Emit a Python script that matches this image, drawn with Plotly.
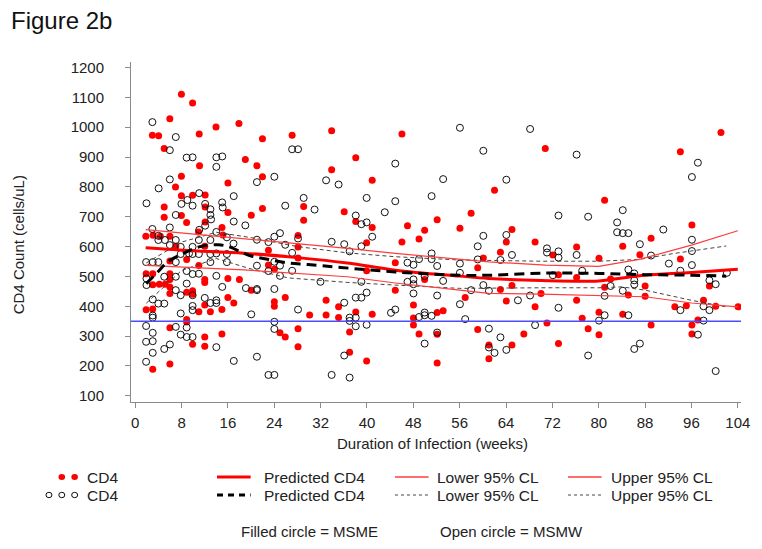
import plotly.graph_objects as go

# ---------------- data ----------------
msme_weeks = [7.97, 9.9, 5.97, 2.96, 4.04, 11.04, 13.94, 17.9, 5.0, 11.1, 19.0, 7.97, 6.95, 16.0, 7.97, 9.9, 12.07,
              5.0, 5.0, 7.97, 16.0, 8.87, 12.07, 12.07, 14.97,
              1.83, 3.08, 4.33, 5.98, 10.93, 15.14, 7.0, 12.0, 5.98, 8.88, 10.98, 1.88, 3.02, 5.98, 5.98, 3.02, 4.16,
              5.18, 5.98, 5.98, 12.0, 12.0, 15.99, 17.98, 8.88, 9.9, 9.9, 15.99, 17.01, 1.88, 3.02, 8.88, 8.88, 5.98,
              10.98, 12.0, 12.97, 14.96, 14.96, 12.0, 9.9, 12.0, 3.02, 5.98,
              21.96, 27.08, 33.9, 21.0, 21.96, 33.9, 38.06, 40.9, 20.03, 21.96, 29.07, 29.07, 36.07, 38.06, 40.9, 28.1,
              28.1, 22.99, 22.99, 24.01, 28.1, 39.94, 39.94, 44.88, 44.88, 20.03, 24.01, 24.01, 25.89, 32.94, 30.1,
              32.94, 35.1, 35.1, 38.06, 40.9, 24.98, 25.89, 28.1, 28.1, 37.0, 37.0, 39.94,
              46.03, 46.99, 46.03, 48.98, 49.95, 52.11, 56.04, 57.97, 62.01, 65.02, 64.05, 63.03, 69.01, 70.77, 49.95,
              59.11, 60.08, 48.02, 48.02, 48.02, 52.11, 53.14, 52.11, 48.98, 52.11, 56.95, 63.03, 64.05, 65.02, 59.11,
              61.04, 61.04, 65.02, 67.07, 69.01, 70.03,
              101.09, 94.09, 81.01, 96.08, 89.03, 84.14, 76.18, 72.08, 87.1, 80.04, 94.09, 73.05, 76.18, 82.04, 81.01,
              88.0, 99.1, 76.18, 85.11, 88.0, 93.13, 95.12, 100.18, 104.05, 71.06, 77.14, 78.17, 80.04, 80.04, 84.14,
              89.03, 96.08, 96.08, 97.11, 98.08, 73.05]
msme_cd4 = [1110, 1081, 1028, 973, 971, 977, 1001, 1012, 929, 871, 892, 836, 800, 813, 770, 772, 773,
            733, 698, 704, 714, 681, 682, 733, 664,
            635, 638, 635, 635, 649, 639, 601, 601, 552, 557, 537, 509, 509, 509, 490, 472, 474,
            474, 465, 443, 490, 480, 493, 490, 447, 452, 440, 429, 411, 388, 391, 356, 347, 328,
            382, 404, 382, 389, 307, 297, 273, 266, 189, 207,
            961, 973, 988, 871, 834, 857, 898, 822, 705, 728, 734, 688, 717, 684, 664, 637,
            599, 588, 538, 524, 562, 613, 519, 546, 454, 454, 415, 400, 429, 420, 371,
            371, 398, 362, 381, 373, 311, 297, 325, 264, 314, 246, 217,
            977, 670, 615, 625, 655, 690, 661, 712, 789, 657, 615, 581, 615, 929, 490,
            529, 562, 404, 361, 337, 379, 385, 306, 307, 210, 429, 456, 418, 470, 322,
            270, 224, 270, 307, 398, 443,
            982, 918, 755, 672, 628, 601, 599, 572, 573, 561, 558, 506, 496, 491, 464,
            468, 468, 420, 438, 434, 398, 402, 400, 398, 344, 360, 325, 380, 305, 373,
            337, 337, 307, 354, 420, 275]

msmw_weeks = [2.96, 7.0, 5.97, 8.87, 9.9, 14.0, 15.02, 14.0, 5.97, 4.04, 1.94, 11.04, 7.97, 9.0, 9.9, 12.07, 12.97,
              12.97, 13.09, 15.0, 15.1, 17.0, 17.0, 7.0, 5.97, 19.0, 12.07, 11.04, 2.96,
              3.99, 5.12, 3.99, 7.0, 10.98, 12.97, 14.0, 15.82, 16.96, 5.98, 7.85, 9.9, 9.28, 9.9, 10.98, 12.97, 14.0,
              15.82, 1.88, 3.02, 3.99, 7.0, 7.85, 12.97, 15.82, 1.94, 1.94, 5.01, 7.0, 8.88, 8.88, 9.9, 10.98, 14.0,
              15.02, 19.1, 3.02, 3.99, 5.01, 7.0, 7.85, 9.9, 9.9, 9.9, 7.85, 14.0, 12.97, 14.0, 12.0, 3.02, 3.02, 1.88,
              7.0, 8.88, 3.02, 1.88, 3.02, 7.85, 8.88, 9.9, 5.98, 5.01, 3.02, 14.0, 1.88, 17.01,
              27.08, 28.1, 24.01, 21.0, 32.94, 35.1, 44.88, 29.07, 25.89, 30.95, 39.94, 44.88, 43.07, 38.06, 39.03,
              39.94, 40.9, 24.01, 24.98, 21.0, 22.99, 25.89, 27.08, 28.1, 33.9, 36.07, 37.0, 39.03, 21.0, 22.99, 24.98,
              27.08, 24.01, 24.98, 31.97, 39.03, 21.0, 24.01, 21.0, 20.03, 28.1, 36.07, 38.06, 39.03, 39.94, 37.0,
              37.0, 38.06, 38.06, 39.94, 24.01, 24.01, 44.14, 44.88, 21.0, 22.99, 24.01, 33.9, 36.07, 37.0,
              56.04, 68.15, 60.08, 53.14, 64.05, 51.15, 60.08, 64.05, 59.11, 65.02, 51.15, 51.15, 46.99, 48.02, 48.98,
              52.11, 49.95, 56.04, 56.04, 59.11, 63.03, 46.99, 48.02, 48.02, 53.14, 57.97, 60.08, 61.04, 66.05, 68.15,
              48.02, 52.11, 56.04, 48.98, 49.95, 49.95, 51.15, 52.11, 49.95, 56.95, 61.04, 61.04, 62.01, 63.03, 64.05,
              69.01,
              76.18, 97.11, 96.08, 73.05, 78.17, 84.14, 83.17, 83.17, 84.14, 85.11, 91.14, 87.1, 96.08, 71.06, 71.06,
              73.05, 73.05, 76.18, 89.03, 96.08, 92.1, 96.08, 77.14, 72.08, 85.11, 86.13, 94.09, 86.13, 86.13, 99.1,
              100.18, 102.11, 82.04, 84.14, 81.01, 73.05, 81.01, 80.04, 85.11, 94.09, 98.08, 99.1, 98.08, 97.11, 78.17,
              86.13, 87.1, 100.18]
msmw_cd4 = [1017, 967, 923, 898, 899, 899, 902, 867, 825, 795, 745, 779, 743, 756, 737, 743, 725,
            706, 691, 748, 731, 769, 684, 706, 664, 671, 670, 656, 659,
            636, 622, 622, 622, 622, 622, 649, 631, 610, 605, 599, 599, 577, 575, 575, 575, 577,
            575, 548, 548, 548, 548, 575, 548, 548, 493, 471, 499, 499, 518, 476, 508, 509, 502,
            465, 461, 423, 409, 409, 454, 437, 437, 401, 387, 376, 420, 411, 411, 428, 369, 362, 334,
            331, 329, 311, 281, 283, 305, 297, 297, 272, 257, 244, 263, 214, 217,
            926, 926, 834, 816, 822, 808, 878, 763, 737, 724, 763, 752, 715, 704, 675,
            681, 633, 633, 645, 623, 615, 606, 579, 627, 616, 608, 584, 601, 536, 518, 502,
            519, 549, 536, 482, 482, 458, 458, 454, 373, 389, 412, 429, 429, 446, 362,
            351, 362, 333, 338, 348, 324, 378, 389, 231, 170, 170, 170, 235, 161,
            998, 994, 921, 826, 824, 769, 636, 639, 601, 572, 577, 558, 546, 539, 558,
            535, 501, 543, 512, 557, 555, 482, 490, 474, 485, 454, 471, 452, 420, 436,
            443, 436, 407, 364, 370, 379, 368, 312, 275, 357, 325, 262, 244, 296, 254,
            337,
            908, 881, 833, 704, 700, 722, 681, 648, 645, 645, 657, 608, 623, 594, 580,
            584, 563, 572, 570, 585, 543, 538, 519, 504, 523, 510, 519, 487, 473, 487,
            474, 512, 468, 452, 435, 395, 370, 352, 370, 387, 400, 387, 352, 305, 235,
            257, 275, 183]

# fitted curves
fit_msme_weeks = [1.8, 10, 18.7, 28, 36.6, 44.9, 56, 61, 70, 80, 84, 88, 96, 104]
fit_msme_pred = [596, 586, 578, 563, 545, 521, 501, 493, 486, 485, 495, 504, 513, 524]
ucl_msme_weeks = [1.8, 18.7, 36.6, 44.9, 56, 61, 70.8, 80, 87, 96, 104]
ucl_msme = [657, 627, 594, 577, 557, 549, 538, 534, 557, 605, 653]
lcl_msme_weeks = [1.8, 18.7, 36.6, 44.9, 56, 61, 70, 80, 88, 96, 104]
lcl_msme = [537, 522, 499, 478, 454, 443, 441, 437, 432, 411, 398]

fit_msmw_weeks = [1.9, 3.9, 5.6, 8.3, 11, 14.3, 16.2, 19.6, 23, 26.4, 29.8, 35.5, 44.9, 56, 61, 70.5, 80, 88, 96, 102]
fit_msmw_pred = [476, 515, 549, 577, 599, 606, 599, 571, 557, 545, 540, 530, 515, 504, 504, 511, 510, 506, 504, 501]
ucl_msmw_weeks = [1.9, 8, 14, 20, 28, 36.6, 44.9, 56, 70, 80, 87, 93, 102]
ucl_msmw = [545, 615, 648, 630, 600, 579, 566, 555, 551, 551, 557, 577, 602]
lcl_msmw_weeks = [1.9, 8, 14, 20, 26.4, 36.6, 44.9, 56, 70, 80, 84, 88, 96, 102]
lcl_msmw = [410, 520, 560, 525, 495, 480, 471, 460, 462, 462, 465, 454, 420, 398]

threshold_cd4 = 350
x_ticks = list(range(0, 105, 8))
y_ticks = list(range(100, 1201, 100))

# ---------------- layout geometry ----------------
W, H = 762, 549
ML, MR, MT, MB = 131, 14, 62, 147
PW, PH = W - ML - MR, H - MT - MB


def px(x):
    return (x - ML) / PW


def py(y):
    return (H - MB - y) / PH


FONT = "Liberation Sans, Arial, sans-serif"
RED = "#ff0000"
RED_THIN = "#ff3c3c"

fig = go.Figure()

fig.add_trace(go.Scatter(x=msme_weeks, y=msme_cd4, mode="markers",
                         marker=dict(symbol="circle", size=7, color=RED, line=dict(width=0)),
                         showlegend=False))
fig.add_trace(go.Scatter(x=msmw_weeks, y=msmw_cd4, mode="markers",
                         marker=dict(symbol="circle-open", size=7, color="#111111", line=dict(width=1)),
                         showlegend=False))

fig.add_trace(go.Scatter(x=ucl_msmw_weeks, y=ucl_msmw, mode="lines",
                         line=dict(color="#444444", width=1, dash="4px,3px"), showlegend=False))
fig.add_trace(go.Scatter(x=lcl_msmw_weeks, y=lcl_msmw, mode="lines",
                         line=dict(color="#444444", width=1, dash="4px,3px"), showlegend=False))
fig.add_trace(go.Scatter(x=ucl_msme_weeks, y=ucl_msme, mode="lines",
                         line=dict(color=RED_THIN, width=1.2), showlegend=False))
fig.add_trace(go.Scatter(x=lcl_msme_weeks, y=lcl_msme, mode="lines",
                         line=dict(color=RED_THIN, width=1.2), showlegend=False))
fig.add_trace(go.Scatter(x=fit_msme_weeks, y=fit_msme_pred, mode="lines",
                         line=dict(color=RED, width=3, shape="spline"), showlegend=False))
fig.add_trace(go.Scatter(x=fit_msmw_weeks, y=fit_msmw_pred, mode="lines",
                         line=dict(color="black", width=3, dash="10px,6px", shape="spline"), showlegend=False))

fig.add_hline(y=threshold_cd4, line=dict(color="#4d4dff", width=1.5))

axis_common = dict(showline=True, linecolor="#8a8a8a", linewidth=1, ticks="outside", ticklen=5,
                   tickcolor="#8a8a8a", showgrid=False, zeroline=False,
                   tickfont=dict(family=FONT, size=15, color="#222222"))

fig.update_xaxes(range=[-0.73, 104.55], tickvals=x_ticks, ticklabelstandoff=2, **axis_common)
fig.update_yaxes(range=[79.3, 1218.4], tickvals=y_ticks, ticklabelstandoff=18, **axis_common)

ann = []
ann.append(dict(text="Figure 2b", x=px(8), y=py(20), xanchor="left", yanchor="middle",
                font=dict(family=FONT, size=24, color="#111111")))
ann.append(dict(text="CD4 Count (cells/uL)", x=px(17), y=py(245), textangle=-90,
                xanchor="center", yanchor="middle", font=dict(family=FONT, size=15, color="#222222")))
ann.append(dict(text="Duration of Infection (weeks)", x=px(436), y=py(443),
                xanchor="center", yanchor="middle", font=dict(family=FONT, size=15, color="#222222")))

shapes = []
rows = [477, 495]
for i, xx in enumerate([48, 61, 74]):
    shapes.append(dict(type="circle", xref="paper", yref="paper", xsizemode="pixel", ysizemode="pixel",
                       xanchor=px(xx), yanchor=py(rows[0]), x0=-3.3, x1=3.3, y0=-3, y1=3,
                       fillcolor=RED, line=dict(width=0)))
    shapes.append(dict(type="circle", xref="paper", yref="paper", xsizemode="pixel", ysizemode="pixel",
                       xanchor=px(xx), yanchor=py(rows[1]), x0=-3, x1=3, y0=-2.7, y1=2.7,
                       fillcolor="rgba(0,0,0,0)", line=dict(width=1, color="#111111")))
legend_cols = [(84, "CD4", None), (263, "Predicted CD4", 218), (438, "Lower 95% CL", 398),
               (614, "Upper 95% CL", 573)]
line_styles = {
    218: [dict(color=RED, width=3), dict(color="black", width=3, dash="6px,5px")],
    398: [dict(color=RED_THIN, width=1.5), dict(color="#444444", width=1, dash="3px,3px")],
    573: [dict(color=RED_THIN, width=1.5), dict(color="#444444", width=1, dash="3px,3px")],
}
for tx, label, lx in legend_cols:
    for r, ry in enumerate(rows):
        ann.append(dict(text=label, x=px(tx), y=py(ry), xanchor="left", yanchor="middle",
                        font=dict(family=FONT, size=15.5, color="#222222")))
        if lx is not None:
            shapes.append(dict(type="line", xref="paper", yref="paper", x0=px(lx), x1=px(lx + 34),
                               y0=py(ry), y1=py(ry), line=line_styles[lx][r]))

ann.append(dict(text="Filled circle = MSME", x=px(240), y=py(531), xanchor="left", yanchor="middle",
                font=dict(family=FONT, size=15, color="#222222")))
ann.append(dict(text="Open circle = MSMW", x=px(442), y=py(531), xanchor="left", yanchor="middle",
                font=dict(family=FONT, size=15, color="#222222")))

for a in ann:
    a.update(xref="paper", yref="paper", showarrow=False)

fig.update_layout(width=W, height=H, margin=dict(l=ML, r=MR, t=MT, b=MB, pad=0),
                  plot_bgcolor="white", paper_bgcolor="white", annotations=ann, shapes=shapes,
                  showlegend=False, font=dict(family=FONT))

fig.write_html("out.html", config={"displayModeBar": False},
               post_script="document.body.style.margin='0';document.body.style.overflow='hidden';")
